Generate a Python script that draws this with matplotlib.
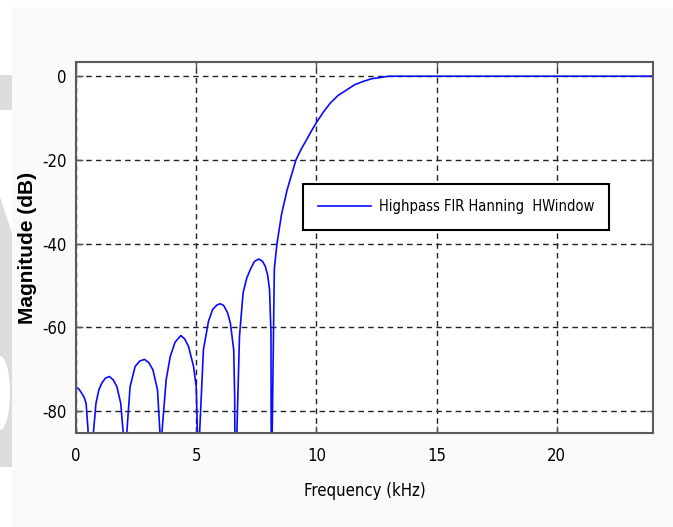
import matplotlib
matplotlib.use("Agg")
import matplotlib.pyplot as plt
from matplotlib.patches import Polygon, Rectangle, Ellipse

# frequency response (kHz, dB); nulls go below the axis
freq_khz = [0.0, 0.12, 0.24, 0.34, 0.42, 0.50, 0.60,
            0.72, 0.83, 0.95, 1.07, 1.22, 1.39, 1.55, 1.70, 1.86, 1.96, 2.04,
            2.11, 2.25, 2.46, 2.65, 2.85, 3.03, 3.20, 3.39, 3.49, 3.53,
            3.57, 3.75, 3.92, 4.12, 4.36, 4.52, 4.68, 4.89, 5.00, 5.05, 5.09,
            5.14, 5.30, 5.51, 5.68, 5.86, 6.00, 6.14, 6.30, 6.42, 6.56, 6.60, 6.64,
            6.69, 6.80, 6.95, 7.10, 7.25, 7.42, 7.60, 7.75, 7.87, 7.97, 8.05, 8.11, 8.13,
            8.16, 8.25, 8.36, 8.55, 8.78, 9.15, 9.38, 9.61, 9.82, 10.03, 10.3,
            10.58, 10.9, 11.28, 11.6, 11.97, 12.3, 12.67, 13.0, 24.0]
mag_db = [-74.3, -74.8, -75.8, -76.8, -78.2, -84.5, -120,
          -85.5, -78.2, -75.0, -73.4, -72.2, -71.8, -72.6, -74.2, -78.2, -85.0, -120,
          -85.5, -74.2, -69.4, -68.1, -67.7, -68.5, -70.2, -75.0, -85.0, -120,
          -85.5, -72.6, -67.0, -63.6, -62.0, -62.8, -64.6, -69.4, -74.2, -85.0, -120,
          -85.5, -65.4, -58.6, -55.8, -54.7, -54.4, -54.8, -56.5, -59.0, -65.4, -76.6, -120,
          -85.5, -62.2, -51.8, -48.3, -46.2, -44.3, -43.7, -44.2, -45.4, -47.5, -51.0, -61.4, -120,
          -85.5, -46.0, -40.0, -33.0, -27.2, -20.0, -17.3, -15.0, -12.8, -10.8, -8.5,
          -6.4, -4.6, -3.2, -2.0, -1.2, -0.6, -0.3, 0.0, 0.0]

x_ticks = [0, 5, 10, 15, 20]
y_ticks = [-80, -60, -40, -20, 0]
legend_label = "Highpass FIR Hanning  HWindow"

W, H = 673, 527
plt.rcParams["axes.unicode_minus"] = False
narrow = {"family": ["DejaVu Sans"], "stretch": "condensed"}
axis_col = "#5a5a5a"

fig = plt.figure(figsize=(W / 100, H / 100), dpi=100, facecolor="#fafafa")


def px(x, y):
    # pixel (from top-left) -> figure fraction
    return (x / W, 1 - y / H)


# white margins and the grey watermark on the left edge
fig.add_artist(Rectangle(px(0, H), 12 / W, 1, transform=fig.transFigure,
                         facecolor="white", edgecolor="none", zorder=0))
fig.add_artist(Rectangle(px(0, 7), 1, 7 / H, transform=fig.transFigure,
                         facecolor="white", edgecolor="none", zorder=0))
grey = "#dcdcdc"
fig.add_artist(Rectangle(px(0, 110), 12 / W, 35 / H, transform=fig.transFigure,
                         facecolor=grey, edgecolor="none", zorder=0))
fig.add_artist(Polygon([px(0, 197), px(12, 233), px(12, 467), px(0, 467)],
                       transform=fig.transFigure, facecolor=grey,
                       edgecolor="none", zorder=0))
fig.add_artist(Ellipse(px(0, 393), 20 / W, 74 / H, transform=fig.transFigure,
                       facecolor="white", edgecolor="none", zorder=0))

ax = fig.add_axes([76 / W, 1 - 433 / H, 577 / W, 371 / H])
ax.set_facecolor("white")
ax.plot(freq_khz, mag_db, color="#0a0aff", lw=1.2, label=legend_label)

ax.set_xlim(0, 24)
ax.set_ylim(-85.3, 3.4)
ax.set_xticks(x_ticks)
ax.set_yticks(y_ticks)
ax.grid(True, color="#222222", linestyle=(0, (4, 3)), lw=1.0)

for s in ax.spines.values():
    s.set_color(axis_col)
    s.set_linewidth(1.5)
ax.tick_params(direction="in", length=5, width=1, color=axis_col,
               top=True, right=True, labelsize=12)
ax.tick_params(axis="x", pad=10)
ax.tick_params(axis="y", pad=7)
for lab in ax.get_xticklabels() + ax.get_yticklabels():
    lab.set_family(narrow["family"])
    lab.set_stretch(narrow["stretch"])

ax.set_xlabel("Frequency (kHz)", fontsize=12, labelpad=12, **narrow)
ax.set_ylabel("Magnitude (dB)", family=["Liberation Sans", "DejaVu Sans"],
              fontsize=15, fontweight="bold")
ax.yaxis.set_label_coords(-0.068, 0.5)

leg = ax.legend(loc="upper left", bbox_to_anchor=(0.393, 0.671),
                prop={"family": narrow["family"], "stretch": "condensed", "size": 10.5},
                fancybox=False, framealpha=1, edgecolor="black", borderpad=1.05,
                handlelength=3.6, handletextpad=0.55, borderaxespad=0)
leg.get_frame().set_linewidth(1.5)

fig.savefig("out.png", dpi=100, facecolor=fig.get_facecolor())
